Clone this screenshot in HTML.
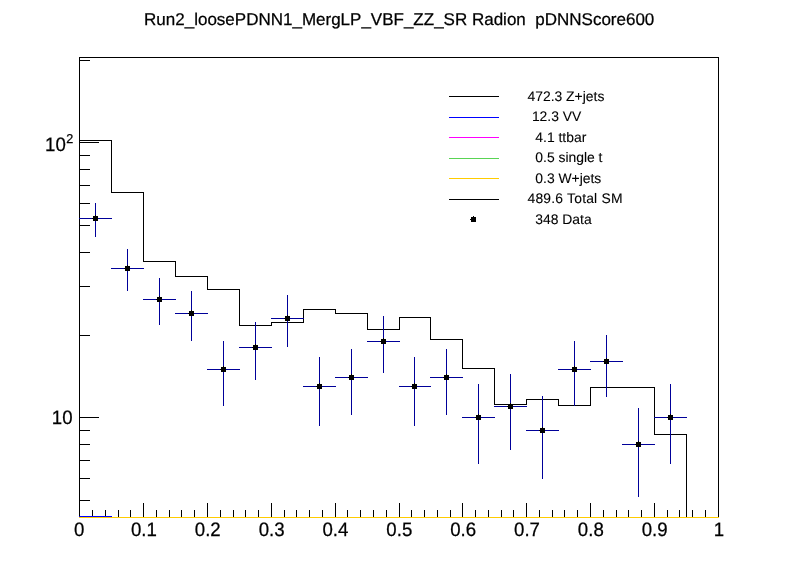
<!DOCTYPE html>
<html><head><meta charset="utf-8"><title>plot</title>
<style>
html,body{margin:0;padding:0;background:#fff;}
svg{display:block}
text{font-family:"Liberation Sans",sans-serif;fill:#000;stroke:#000;stroke-width:0.25px;text-rendering:geometricPrecision}
.lg text{stroke-width:0.1px}
</style></head><body>
<svg width="798" height="575" viewBox="0 0 798 575">
<rect x="0" y="0" width="798" height="575" fill="#fff"/>
<g shape-rendering="crispEdges">
<rect x="79" y="57" width="640" height="1" fill="#000"/>
<rect x="79" y="517" width="640" height="1" fill="#000"/>
<rect x="79" y="57" width="1" height="461" fill="#000"/>
<rect x="718" y="57" width="1" height="461" fill="#000"/>
<rect x="79" y="500" width="11" height="1" fill="#000"/>
<rect x="79" y="478" width="11" height="1" fill="#000"/>
<rect x="79" y="460" width="11" height="1" fill="#000"/>
<rect x="79" y="444" width="11" height="1" fill="#000"/>
<rect x="79" y="430" width="11" height="1" fill="#000"/>
<rect x="79" y="417" width="20" height="1" fill="#000"/>
<rect x="79" y="335" width="11" height="1" fill="#000"/>
<rect x="79" y="286" width="11" height="1" fill="#000"/>
<rect x="79" y="252" width="11" height="1" fill="#000"/>
<rect x="79" y="225" width="11" height="1" fill="#000"/>
<rect x="79" y="203" width="11" height="1" fill="#000"/>
<rect x="79" y="185" width="11" height="1" fill="#000"/>
<rect x="79" y="169" width="11" height="1" fill="#000"/>
<rect x="79" y="155" width="11" height="1" fill="#000"/>
<rect x="79" y="142" width="20" height="1" fill="#000"/>
<rect x="79" y="60" width="11" height="1" fill="#000"/>
<rect x="79" y="503" width="1" height="15" fill="#000"/>
<rect x="92" y="510" width="1" height="8" fill="#000"/>
<rect x="105" y="510" width="1" height="8" fill="#000"/>
<rect x="118" y="510" width="1" height="8" fill="#000"/>
<rect x="130" y="510" width="1" height="8" fill="#000"/>
<rect x="143" y="503" width="1" height="15" fill="#000"/>
<rect x="156" y="510" width="1" height="8" fill="#000"/>
<rect x="169" y="510" width="1" height="8" fill="#000"/>
<rect x="181" y="510" width="1" height="8" fill="#000"/>
<rect x="194" y="510" width="1" height="8" fill="#000"/>
<rect x="207" y="503" width="1" height="15" fill="#000"/>
<rect x="220" y="510" width="1" height="8" fill="#000"/>
<rect x="233" y="510" width="1" height="8" fill="#000"/>
<rect x="245" y="510" width="1" height="8" fill="#000"/>
<rect x="258" y="510" width="1" height="8" fill="#000"/>
<rect x="271" y="503" width="1" height="15" fill="#000"/>
<rect x="284" y="510" width="1" height="8" fill="#000"/>
<rect x="296" y="510" width="1" height="8" fill="#000"/>
<rect x="309" y="510" width="1" height="8" fill="#000"/>
<rect x="322" y="510" width="1" height="8" fill="#000"/>
<rect x="335" y="503" width="1" height="15" fill="#000"/>
<rect x="347" y="510" width="1" height="8" fill="#000"/>
<rect x="360" y="510" width="1" height="8" fill="#000"/>
<rect x="373" y="510" width="1" height="8" fill="#000"/>
<rect x="386" y="510" width="1" height="8" fill="#000"/>
<rect x="399" y="503" width="1" height="15" fill="#000"/>
<rect x="411" y="510" width="1" height="8" fill="#000"/>
<rect x="424" y="510" width="1" height="8" fill="#000"/>
<rect x="437" y="510" width="1" height="8" fill="#000"/>
<rect x="450" y="510" width="1" height="8" fill="#000"/>
<rect x="462" y="503" width="1" height="15" fill="#000"/>
<rect x="475" y="510" width="1" height="8" fill="#000"/>
<rect x="488" y="510" width="1" height="8" fill="#000"/>
<rect x="501" y="510" width="1" height="8" fill="#000"/>
<rect x="513" y="510" width="1" height="8" fill="#000"/>
<rect x="526" y="503" width="1" height="15" fill="#000"/>
<rect x="539" y="510" width="1" height="8" fill="#000"/>
<rect x="552" y="510" width="1" height="8" fill="#000"/>
<rect x="564" y="510" width="1" height="8" fill="#000"/>
<rect x="577" y="510" width="1" height="8" fill="#000"/>
<rect x="590" y="503" width="1" height="15" fill="#000"/>
<rect x="603" y="510" width="1" height="8" fill="#000"/>
<rect x="616" y="510" width="1" height="8" fill="#000"/>
<rect x="628" y="510" width="1" height="8" fill="#000"/>
<rect x="641" y="510" width="1" height="8" fill="#000"/>
<rect x="654" y="503" width="1" height="15" fill="#000"/>
<rect x="667" y="510" width="1" height="8" fill="#000"/>
<rect x="679" y="510" width="1" height="8" fill="#000"/>
<rect x="692" y="510" width="1" height="8" fill="#000"/>
<rect x="705" y="510" width="1" height="8" fill="#000"/>
<rect x="718" y="503" width="1" height="15" fill="#000"/>
<path d="M79.5,140.5 L111.5,140.5 L111.5,192.5 L143.5,192.5 L143.5,261.5 L175.5,261.5 L175.5,276.5 L207.5,276.5 L207.5,289.5 L239.5,289.5 L239.5,325.5 L271.5,325.5 L271.5,322.5 L303.5,322.5 L303.5,309.5 L335.5,309.5 L335.5,313.5 L367.5,313.5 L367.5,329.5 L399.5,329.5 L399.5,317.5 L430.5,317.5 L430.5,339.5 L462.5,339.5 L462.5,368.5 L494.5,368.5 L494.5,404.5 L526.5,404.5 L526.5,399.5 L558.5,399.5 L558.5,405.5 L590.5,405.5 L590.5,387.5 L622.5,387.5 L622.5,387.5 L654.5,387.5 L654.5,434.5 L686.5,434.5 L686.5,517.5" fill="none" stroke="#000" stroke-width="1" stroke-linejoin="miter" stroke-linecap="square"/>
<rect x="79" y="517" width="640" height="1" fill="#ffcc00"/>
<rect x="79" y="516" width="33" height="1" fill="#0000ff"/>
<rect x="79" y="218" width="33" height="1" fill="#000099"/>
<rect x="95" y="203" width="1" height="34" fill="#000099"/>
<rect x="111" y="268" width="33" height="1" fill="#000099"/>
<rect x="127" y="249" width="1" height="42" fill="#000099"/>
<rect x="143" y="299" width="33" height="1" fill="#000099"/>
<rect x="159" y="278" width="1" height="47" fill="#000099"/>
<rect x="175" y="313" width="33" height="1" fill="#000099"/>
<rect x="191" y="291" width="1" height="50" fill="#000099"/>
<rect x="207" y="369" width="33" height="1" fill="#000099"/>
<rect x="223" y="341" width="1" height="65" fill="#000099"/>
<rect x="239" y="347" width="33" height="1" fill="#000099"/>
<rect x="255" y="322" width="1" height="58" fill="#000099"/>
<rect x="271" y="318" width="33" height="1" fill="#000099"/>
<rect x="287" y="295" width="1" height="52" fill="#000099"/>
<rect x="303" y="386" width="33" height="1" fill="#000099"/>
<rect x="319" y="357" width="1" height="69" fill="#000099"/>
<rect x="335" y="377" width="33" height="1" fill="#000099"/>
<rect x="351" y="349" width="1" height="66" fill="#000099"/>
<rect x="367" y="341" width="33" height="1" fill="#000099"/>
<rect x="383" y="316" width="1" height="57" fill="#000099"/>
<rect x="399" y="386" width="32" height="1" fill="#000099"/>
<rect x="414" y="357" width="1" height="69" fill="#000099"/>
<rect x="430" y="377" width="33" height="1" fill="#000099"/>
<rect x="446" y="349" width="1" height="66" fill="#000099"/>
<rect x="462" y="417" width="33" height="1" fill="#000099"/>
<rect x="478" y="384" width="1" height="80" fill="#000099"/>
<rect x="494" y="406" width="33" height="1" fill="#000099"/>
<rect x="510" y="374" width="1" height="76" fill="#000099"/>
<rect x="526" y="430" width="33" height="1" fill="#000099"/>
<rect x="542" y="396" width="1" height="83" fill="#000099"/>
<rect x="558" y="369" width="33" height="1" fill="#000099"/>
<rect x="574" y="341" width="1" height="65" fill="#000099"/>
<rect x="590" y="361" width="33" height="1" fill="#000099"/>
<rect x="606" y="335" width="1" height="62" fill="#000099"/>
<rect x="622" y="444" width="33" height="1" fill="#000099"/>
<rect x="638" y="408" width="1" height="89" fill="#000099"/>
<rect x="654" y="417" width="33" height="1" fill="#000099"/>
<rect x="670" y="384" width="1" height="80" fill="#000099"/>
<rect x="93" y="216" width="5" height="5" fill="#000"/>
<rect x="95" y="215" width="1" height="1" fill="#000"/>
<rect x="92" y="218" width="1" height="1" fill="#000"/>
<rect x="125" y="266" width="5" height="5" fill="#000"/>
<rect x="127" y="265" width="1" height="1" fill="#000"/>
<rect x="124" y="268" width="1" height="1" fill="#000"/>
<rect x="157" y="297" width="5" height="5" fill="#000"/>
<rect x="159" y="296" width="1" height="1" fill="#000"/>
<rect x="156" y="299" width="1" height="1" fill="#000"/>
<rect x="189" y="311" width="5" height="5" fill="#000"/>
<rect x="191" y="310" width="1" height="1" fill="#000"/>
<rect x="188" y="313" width="1" height="1" fill="#000"/>
<rect x="221" y="367" width="5" height="5" fill="#000"/>
<rect x="223" y="366" width="1" height="1" fill="#000"/>
<rect x="220" y="369" width="1" height="1" fill="#000"/>
<rect x="253" y="345" width="5" height="5" fill="#000"/>
<rect x="255" y="344" width="1" height="1" fill="#000"/>
<rect x="252" y="347" width="1" height="1" fill="#000"/>
<rect x="285" y="316" width="5" height="5" fill="#000"/>
<rect x="287" y="315" width="1" height="1" fill="#000"/>
<rect x="284" y="318" width="1" height="1" fill="#000"/>
<rect x="317" y="384" width="5" height="5" fill="#000"/>
<rect x="319" y="383" width="1" height="1" fill="#000"/>
<rect x="316" y="386" width="1" height="1" fill="#000"/>
<rect x="349" y="375" width="5" height="5" fill="#000"/>
<rect x="351" y="374" width="1" height="1" fill="#000"/>
<rect x="348" y="377" width="1" height="1" fill="#000"/>
<rect x="381" y="339" width="5" height="5" fill="#000"/>
<rect x="383" y="338" width="1" height="1" fill="#000"/>
<rect x="380" y="341" width="1" height="1" fill="#000"/>
<rect x="412" y="384" width="5" height="5" fill="#000"/>
<rect x="414" y="383" width="1" height="1" fill="#000"/>
<rect x="411" y="386" width="1" height="1" fill="#000"/>
<rect x="444" y="375" width="5" height="5" fill="#000"/>
<rect x="446" y="374" width="1" height="1" fill="#000"/>
<rect x="443" y="377" width="1" height="1" fill="#000"/>
<rect x="476" y="415" width="5" height="5" fill="#000"/>
<rect x="478" y="414" width="1" height="1" fill="#000"/>
<rect x="475" y="417" width="1" height="1" fill="#000"/>
<rect x="508" y="404" width="5" height="5" fill="#000"/>
<rect x="510" y="403" width="1" height="1" fill="#000"/>
<rect x="507" y="406" width="1" height="1" fill="#000"/>
<rect x="540" y="428" width="5" height="5" fill="#000"/>
<rect x="542" y="427" width="1" height="1" fill="#000"/>
<rect x="539" y="430" width="1" height="1" fill="#000"/>
<rect x="572" y="367" width="5" height="5" fill="#000"/>
<rect x="574" y="366" width="1" height="1" fill="#000"/>
<rect x="571" y="369" width="1" height="1" fill="#000"/>
<rect x="604" y="359" width="5" height="5" fill="#000"/>
<rect x="606" y="358" width="1" height="1" fill="#000"/>
<rect x="603" y="361" width="1" height="1" fill="#000"/>
<rect x="636" y="442" width="5" height="5" fill="#000"/>
<rect x="638" y="441" width="1" height="1" fill="#000"/>
<rect x="635" y="444" width="1" height="1" fill="#000"/>
<rect x="668" y="415" width="5" height="5" fill="#000"/>
<rect x="670" y="414" width="1" height="1" fill="#000"/>
<rect x="667" y="417" width="1" height="1" fill="#000"/>
<rect x="449" y="96" width="50" height="1" fill="#000"/>
<rect x="449" y="117" width="50" height="1" fill="#0000ff"/>
<rect x="449" y="137" width="50" height="1" fill="#ff00ff"/>
<rect x="449" y="158" width="50" height="1" fill="#59d454"/>
<rect x="449" y="178" width="50" height="1" fill="#ffcc00"/>
<rect x="449" y="199" width="50" height="1" fill="#000"/>
<rect x="471" y="217" width="5" height="5" fill="#000"/>
<rect x="473" y="216" width="1" height="1" fill="#000"/>
<rect x="470" y="219" width="1" height="1" fill="#000"/>
</g>
<g>
<text x="399.2" y="24.5" font-size="17.0" text-anchor="middle" xml:space="preserve" style="white-space:pre">Run2_loosePDNN1_MergLP_VBF_ZZ_SR Radion  pDNNScore600</text>
<text transform="translate(79.30,536.0) scale(0.962,1)" font-size="19.4" text-anchor="middle">0</text>
<text transform="translate(143.94,536.0) scale(0.962,1)" font-size="19.4" text-anchor="middle">0.1</text>
<text transform="translate(207.78,536.0) scale(0.962,1)" font-size="19.4" text-anchor="middle">0.2</text>
<text transform="translate(271.62,536.0) scale(0.962,1)" font-size="19.4" text-anchor="middle">0.3</text>
<text transform="translate(335.46,536.0) scale(0.962,1)" font-size="19.4" text-anchor="middle">0.4</text>
<text transform="translate(399.30,536.0) scale(0.962,1)" font-size="19.4" text-anchor="middle">0.5</text>
<text transform="translate(463.14,536.0) scale(0.962,1)" font-size="19.4" text-anchor="middle">0.6</text>
<text transform="translate(526.98,536.0) scale(0.962,1)" font-size="19.4" text-anchor="middle">0.7</text>
<text transform="translate(590.82,536.0) scale(0.962,1)" font-size="19.4" text-anchor="middle">0.8</text>
<text transform="translate(654.66,536.0) scale(0.962,1)" font-size="19.4" text-anchor="middle">0.9</text>
<text transform="translate(719.00,536.0) scale(0.962,1)" font-size="19.4" text-anchor="middle">1</text>
<text transform="translate(72.6,424.3) scale(0.962,1)" font-size="19.4" text-anchor="end">10</text>
<text transform="translate(65.8,151) scale(0.962,1)" font-size="19.4" text-anchor="end">10</text>
<text transform="translate(66.2,142.8) scale(0.98,1)" font-size="12.9" text-anchor="start">2</text>
<g class="lg">
<text x="527.5" y="100.7" font-size="13.9" text-anchor="start" >472.3 Z+jets</text>
<text x="531.9" y="121.3" font-size="13.9" text-anchor="start" >12.3 VV</text>
<text x="535.3" y="141.79999999999998" font-size="13.9" text-anchor="start" >4.1 ttbar</text>
<text x="535.3" y="162.29999999999998" font-size="13.9" text-anchor="start" >0.5 single t</text>
<text x="535.3" y="182.89999999999998" font-size="13.9" text-anchor="start" >0.3 W+jets</text>
<text x="527.5" y="203.39999999999998" font-size="13.9" text-anchor="start" letter-spacing="0.2">489.6 Total SM</text>
<text x="535.3" y="224.0" font-size="13.9" text-anchor="start" >348 Data</text>
</g>
</g>
</svg>
</body></html>
